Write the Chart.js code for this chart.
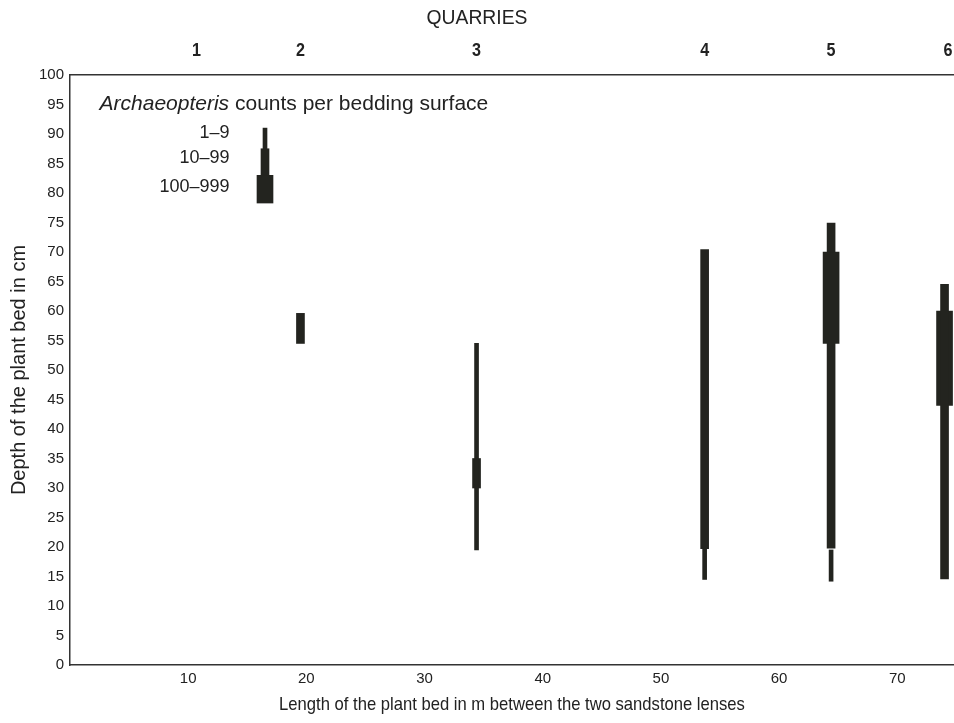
<!DOCTYPE html>
<html>
<head>
<meta charset="utf-8">
<script src="https://cdn.jsdelivr.net/npm/chart.js@4/dist/chart.umd.min.js"></script>
<style>
  html, body { margin: 0; padding: 0; background: #fff; }
  #wrap { width: 954px; height: 723px; }
</style>
</head>
<body>
<div id="wrap"><canvas id="c" width="954" height="723"></canvas></div>
<script>
// ---- data ----
const xTicks = [10, 20, 30, 40, 50, 60, 70];
const yTicks = [0, 5, 10, 15, 20, 25, 30, 35, 40, 45, 50, 55, 60, 65, 70, 75, 80, 85, 90, 95, 100];
const quarryLabels = ['1', '2', '3', '4', '5', '6'];
const quarryPos = [10.7, 19.5, 34.4, 53.7, 64.4, 74.3];

// 1–9 class (thin bars): x position, depth from, depth to
const thinX = [16.5, 34.4, 53.7, 64.4];
const thinLow = [87.5, 19.5, 14.5, 14.2];
const thinHigh = [91, 54.5, 19.7, 19.5];
// 10–99 class (medium bars)
const midX = [16.5, 19.5, 34.4, 53.7, 64.4, 64.4, 74.0];
const midLow = [83, 54.5, 30, 19.7, 70, 19.8, 14.6];
const midHigh = [87.5, 59.6, 35, 70.4, 74.9, 54.5, 64.5];
// 100–999 class (thick bars)
const thickX = [16.5, 64.4, 74.0];
const thickLow = [78.3, 54.5, 44];
const thickHigh = [83, 70, 60];

// legend key texts
const legendTitleItalic = 'Archaeopteris';
const legendTitleRest = ' counts per bedding surface';
const legendTitlePos = [2.5, 95];
const legendLabels = ['1–9', '10–99', '100–999'];
const legendLabelX = 13.5;
const legendLabelY = [90.1, 85.9, 81.0];

const topTitle = 'QUARRIES';
const xTitle = 'Length of the plant bed in m between the two sandstone lenses';
const yTitle = 'Depth of the plant bed in cm';

// ---- build ----
const INK = '#23241f';
const TXT = '#222';
const FONT = '"Liberation Sans", Arial, Helvetica, sans-serif';

function pts(xs, lo, hi) { return xs.map((x, i) => ({ x: x, y: [lo[i], hi[i]] })); }

const textPlugin = {
  id: 'texts',
  afterDraw(chart) {
    const ctx = chart.ctx;
    const xs = chart.scales.x, ys = chart.scales.y;
    const ca = chart.chartArea;
    ctx.save();
    ctx.fillStyle = TXT;
    ctx.textBaseline = 'middle';
    // QUARRIES title (slightly condensed)
    ctx.save();
    ctx.font = '21px ' + FONT;
    ctx.textAlign = 'center';
    ctx.translate(477, 18);
    ctx.scale(0.92, 1);
    ctx.fillText(topTitle, 0, 0);
    ctx.restore();
    // quarry numbers (condensed bold)
    ctx.font = 'bold 19px ' + FONT;
    ctx.textAlign = 'center';
    quarryLabels.forEach((q, i) => {
      ctx.save();
      ctx.translate(xs.getPixelForValue(quarryPos[i]), 51);
      ctx.scale(0.85, 1);
      ctx.fillText(q, 0, 0);
      ctx.restore();
    });
    // x-axis title (condensed)
    ctx.save();
    ctx.font = '19px ' + FONT;
    ctx.textAlign = 'center';
    ctx.translate((ca.left + ca.right) / 2, 705);
    ctx.scale(0.875, 1);
    ctx.fillText(xTitle, 0, 0);
    ctx.restore();
    // legend title
    ctx.textAlign = 'left';
    ctx.font = 'italic 21px ' + FONT;
    const lx = xs.getPixelForValue(legendTitlePos[0]);
    const ly = ys.getPixelForValue(legendTitlePos[1]);
    ctx.fillText(legendTitleItalic, lx, ly);
    const w = ctx.measureText(legendTitleItalic).width;
    ctx.font = '21px ' + FONT;
    ctx.fillText(legendTitleRest, lx + w, ly);
    // legend labels
    ctx.textAlign = 'right';
    ctx.font = '18px ' + FONT;
    legendLabels.forEach((t, i) => {
      ctx.fillText(t, xs.getPixelForValue(legendLabelX), ys.getPixelForValue(legendLabelY[i]));
    });
    ctx.restore();
  }
};

new Chart(document.getElementById('c'), {
  type: 'bar',
  data: {
    datasets: [
      { data: pts(thinX, thinLow, thinHigh), barThickness: 4, backgroundColor: INK, grouped: false, borderWidth: 0, borderSkipped: false },
      { data: pts(midX, midLow, midHigh), barThickness: 8, backgroundColor: INK, grouped: false, borderWidth: 0, borderSkipped: false },
      { data: pts(thickX, thickLow, thickHigh), barThickness: 16, backgroundColor: INK, grouped: false, borderWidth: 0, borderSkipped: false }
    ]
  },
  options: {
    responsive: false,
    animation: false,
    layout: { padding: 0 },
    plugins: { legend: { display: false }, tooltip: { enabled: false } },
    scales: {
      x: {
        type: 'linear', position: 'bottom', min: 0, max: 74.8, offset: false,
        afterFit(s) { s.height = 58; },
        afterBuildTicks(s) { s.ticks = xTicks.map(v => ({ value: v })); },
        grid: { display: false, drawTicks: false },
        border: { display: true, color: '#333', width: 1.5 },
        ticks: { padding: 5, color: TXT, font: { size: 15, family: FONT }, maxRotation: 0, autoSkip: false },
        title: { display: false }
      },
      xTop: {
        type: 'linear', position: 'top', min: 0, max: 74.8, offset: false,
        afterFit(s) { s.height = 75; },
        grid: { display: false, drawTicks: false },
        border: { display: true, color: '#333', width: 1.5 },
        ticks: { display: false }
      },
      y: {
        type: 'linear', position: 'left', min: 0, max: 100,
        afterFit(s) { s.width = 70; },
        afterBuildTicks(s) { s.ticks = yTicks.map(v => ({ value: v })); },
        grid: { display: false, drawTicks: false },
        border: { display: true, color: '#333', width: 1.5 },
        ticks: { padding: 6, color: TXT, font: { size: 15, family: FONT }, autoSkip: false },
        title: { display: true, text: yTitle, color: TXT, font: { size: 20, family: FONT }, padding: { top: 7, bottom: 0 } }
      }
    }
  },
  plugins: [textPlugin]
});
</script>
</body>
</html>
